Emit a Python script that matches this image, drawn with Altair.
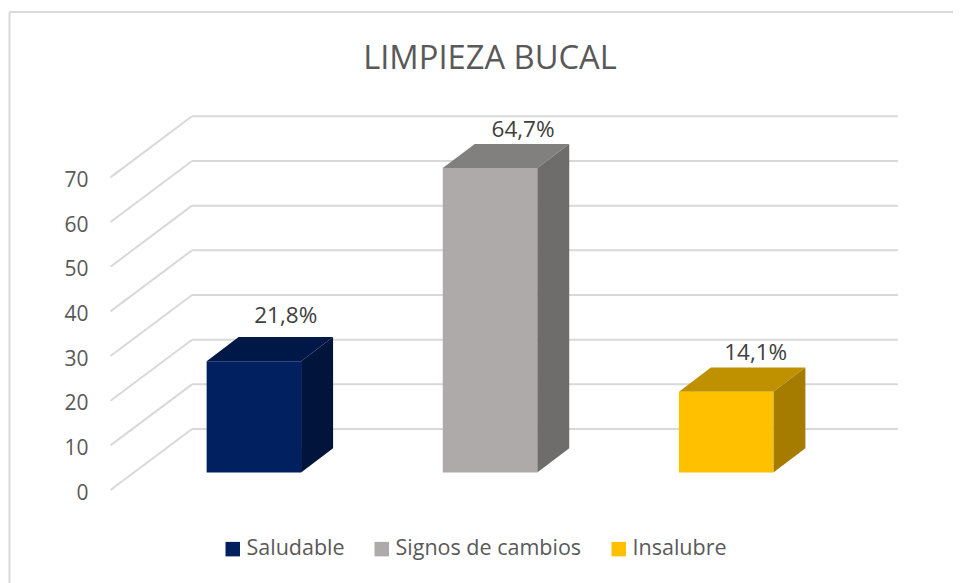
import altair as alt
import pandas as pd

categories = ["Saludable", "Signos de cambios", "Insalubre"]
bar_heights = [24.9, 68.1, 18.05]
labels = ["21,8%", "64,7%", "14,1%"]
front_colors = ["#002060", "#AEAAAA", "#FFC000"]
side_colors = ["#00143C", "#6F6C6C", "#A67C00"]
top_colors = ["#001848", "#827F7F", "#BF9000"]
label_lift = [10.1, 8.6, 8.7]
label_shift = [0.135, 0.14, 0.125]
ticks = [0, 10, 20, 30, 40, 50, 60, 70]

# layout in scale units (x: one category = 1, y: axis units)
BAR_W = 0.4
BAR_DX = 0.1355
BAR_DY = 5.4
BASE = 3.96
FLOOR_X0, FLOOR_X1, FLOOR_X2 = -0.607, -0.262, 2.7277
FLOOR_DY = 13.66
X_DOM = [-1.0411, 2.9606]
Y_DOM = [-20.8, 107.9]
FRAME_X, FRAME_Y = -1.0347, 107.0

xs = alt.Scale(domain=X_DOM, nice=False, zero=False)
ys = alt.Scale(domain=Y_DOM, nice=False, zero=False)
GRID = "#D9D9D9"

y_axis = alt.Axis(values=ticks, offset=-80, domain=False, ticks=False, grid=False,
                  labelFont="Open Sans", labelFontSize=21, labelColor="#595959",
                  labelPadding=0, tickSize=0, title=None, labelOffset=3)

def X(f="x"):
    return alt.X(f"{f}:Q", scale=xs, axis=None)

def Y(f="y"):
    return alt.Y(f"{f}:Q", scale=ys, axis=y_axis)

grid_df = pd.DataFrame({"v": ticks})
grid_df["x"] = FLOOR_X0
grid_df["x2"] = FLOOR_X1
grid_df["x3"] = FLOOR_X2
grid_df["y"] = grid_df.v
grid_df["y2"] = grid_df.v + FLOOR_DY

diag = alt.Chart(grid_df).mark_rule(color=GRID, strokeWidth=2).encode(
    x=X("x"), x2="x2:Q", y=Y("y"), y2="y2:Q")
back = alt.Chart(grid_df).mark_rule(color=GRID, strokeWidth=2).encode(
    x=X("x2"), x2="x3:Q", y=Y("y2"))

frame_df = pd.DataFrame({"x": [FRAME_X], "xe": [X_DOM[1]], "y": [FRAME_Y], "ye": [Y_DOM[0]]})
frame_left = alt.Chart(frame_df).mark_rule(color=GRID, strokeWidth=2).encode(
    x=X("x"), y=Y("y"), y2="ye:Q")
frame_top = alt.Chart(frame_df).mark_rule(color=GRID, strokeWidth=2).encode(
    x=X("x"), x2="xe:Q", y=Y("y"))

layers = [diag, back, frame_left, frame_top]

rows = []
for i, (cat, h) in enumerate(zip(categories, bar_heights)):
    xl, xr = i - BAR_W / 2, i + BAR_W / 2
    t = BASE + h
    top_df = pd.DataFrame({
        "x": [xl, xl + BAR_DX, xr, xr + BAR_DX],
        "y": [t + BAR_DY] * 4,
        "y2": [t, t, t, t + BAR_DY],
    })
    top_df.loc[0, "y"] = t
    side_df = pd.DataFrame({
        "x": [xr, xr + BAR_DX],
        "y": [t, t + BAR_DY],
        "y2": [BASE, BASE + BAR_DY],
    })
    layers.append(alt.Chart(top_df).mark_area(color=top_colors[i], orient="vertical", interpolate="linear")
                  .encode(x=X("x"), y=Y("y"), y2="y2:Q"))
    layers.append(alt.Chart(side_df).mark_area(color=side_colors[i], orient="vertical", interpolate="linear")
                  .encode(x=X("x"), y=Y("y"), y2="y2:Q"))
    rows.append({"cat": cat, "xl": xl, "xr": xr, "t": t, "b": BASE,
                 "lx": i + label_shift[i], "ly": t + label_lift[i], "label": labels[i]})

bars = pd.DataFrame(rows)
front = alt.Chart(bars).mark_rect().encode(
    x=X("xl"), x2="xr:Q", y=Y("b"), y2="t:Q",
    color=alt.Color("cat:N",
                    scale=alt.Scale(domain=categories, range=front_colors),
                    sort=categories,
                    legend=alt.Legend(orient="none", legendX=214, legendY=530, direction="horizontal",
                                      title=None, symbolType="square", symbolSize=210,
                                      symbolStrokeWidth=0, labelFont="Open Sans", labelFontSize=21.5,
                                      labelColor="#595959", columnPadding=26, labelOffset=3,
                                      labelLimit=400)))
layers.append(front)
text = alt.Chart(bars).mark_text(font="Open Sans", fontSize=22.5, color="#404040",
                                 align="center", baseline="middle").encode(
    x=X("lx"), y=Y("ly"), text="label:N")
layers.append(text)

chart = alt.layer(*layers).properties(
    width=945, height=575, padding=0, autosize=alt.AutoSizeParams(type="none"),
    title=alt.TitleParams("LIMPIEZA BUCAL", font="Open Sans", fontSize=32.7, fontWeight="normal",
                          color="#595959", anchor="middle", offset=-68, dx=9.5),
).configure_view(stroke=None)

chart.save("out.html", embed_options={"renderer": "svg", "actions": False})
